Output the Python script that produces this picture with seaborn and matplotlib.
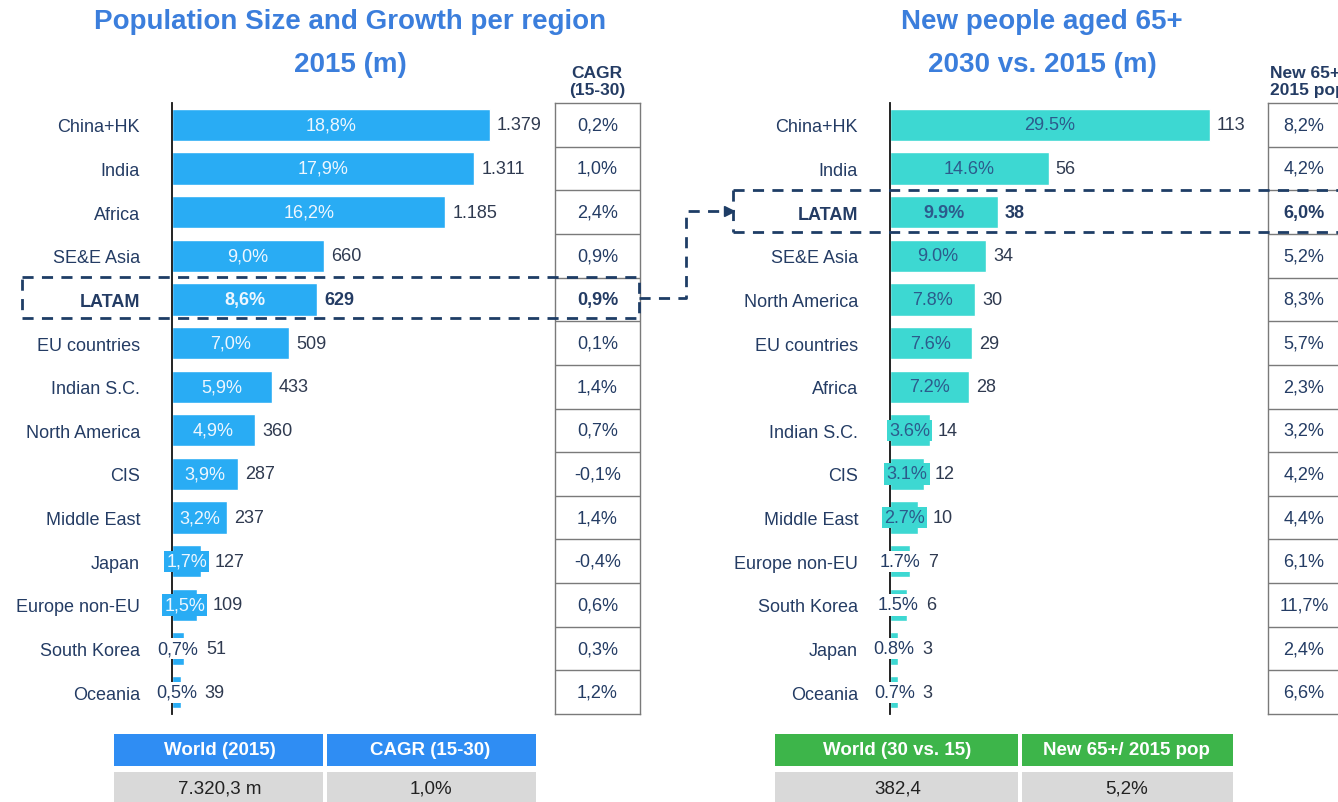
import matplotlib
matplotlib.use("Agg")
import matplotlib.pyplot as plt
import seaborn as sns
import numpy as np
import pandas as pd
from matplotlib.patches import Rectangle

# ---------------- data ----------------
left_regions = ["China+HK", "India", "Africa", "SE&E Asia", "LATAM", "EU countries",
                "Indian S.C.", "North America", "CIS", "Middle East", "Japan",
                "Europe non-EU", "South Korea", "Oceania"]
left_pop = [1379, 1311, 1185, 660, 629, 509, 433, 360, 287, 237, 127, 109, 51, 39]
left_share = ["18,8%", "17,9%", "16,2%", "9,0%", "8,6%", "7,0%", "5,9%", "4,9%",
              "3,9%", "3,2%", "1,7%", "1,5%", "0,7%", "0,5%"]
left_value_labels = ["1.379", "1.311", "1.185", "660", "629", "509", "433", "360",
                     "287", "237", "127", "109", "51", "39"]
left_cagr = ["0,2%", "1,0%", "2,4%", "0,9%", "0,9%", "0,1%", "1,4%", "0,7%",
             "-0,1%", "1,4%", "-0,4%", "0,6%", "0,3%", "1,2%"]

right_regions = ["China+HK", "India", "LATAM", "SE&E Asia", "North America",
                 "EU countries", "Africa", "Indian S.C.", "CIS", "Middle East",
                 "Europe non-EU", "South Korea", "Japan", "Oceania"]
right_new65 = [113, 56, 38, 34, 30, 29, 28, 14, 12, 10, 7, 6, 3, 3]
right_share = ["29.5%", "14.6%", "9.9%", "9.0%", "7.8%", "7.6%", "7.2%", "3.6%",
               "3.1%", "2.7%", "1.7%", "1.5%", "0.8%", "0.7%"]
right_ratio = ["8,2%", "4,2%", "6,0%", "5,2%", "8,3%", "5,7%", "2,3%", "3,2%",
               "4,2%", "4,4%", "6,1%", "11,7%", "2,4%", "6,6%"]

highlight = "LATAM"

left_title = ["Population Size and Growth per region", "2015 (m)"]
right_title = ["New people aged 65+", "2030 vs. 2015 (m)"]
left_col_header = "CAGR\n(15-30)"
right_col_header = "New 65+/\n2015 pop"

left_table_header = ["World (2015)", "CAGR (15-30)"]
left_table_values = ["7.320,3 m", "1,0%"]
right_table_header = ["World (30 vs. 15)", "New 65+/ 2015 pop"]
right_table_values = ["382,4", "5,2%"]

# ---------------- style ----------------
sns.set_theme(style="white")
plt.rcParams["font.family"] = ["Liberation Sans", "DejaVu Sans"]

W, H = 1338, 803
BLUE_BAR = "#29acf4"
TEAL_BAR = "#3dd8d2"
NAVY = "#243c64"
TITLE = "#3b7edc"
DASH = "#1e3d66"
FS = 13

fig = plt.figure(figsize=(W / 100, H / 100), dpi=100)
fig.patch.set_facecolor("white")


def px_axes(x0, y0, x1, y1):
    return fig.add_axes([x0 / W, 1 - y1 / H, (x1 - x0) / W, (y1 - y0) / H])


TOP, BOT = 104, 715


def bar_panel(ax, cats, vals, shares, vlabels, color, pct_color, big_thresh,
              small_thresh, px_per_unit, xmax):
    df = pd.DataFrame({"region": cats, "value": vals})
    sns.barplot(data=df, x="value", y="region", orient="h", color=color,
                width=0.74, ax=ax, saturation=1)
    ax.set_xlim(0, xmax)
    ax.set_xlabel("")
    ax.set_ylabel("")
    ax.set_xticks([])
    for s in ["top", "right", "bottom"]:
        ax.spines[s].set_visible(False)
    ax.spines["left"].set_color("#111111")
    ax.spines["left"].set_linewidth(1.3)
    ax.tick_params(axis="y", length=0, pad=23, labelsize=FS, labelcolor=NAVY)
    for t in ax.get_yticklabels():
        if t.get_text() == highlight:
            t.set_fontweight("bold")
    half = 21 / px_per_unit  # half label width in data units
    for i, (v, s, vl) in enumerate(zip(vals, shares, vlabels)):
        bold = "bold" if cats[i] == highlight else "normal"
        if v >= big_thresh:
            ax.text(v / 2, i, s, ha="center", va="center", color=pct_color,
                    fontsize=FS, fontweight=bold, zorder=5)
            xend = v
        elif v >= small_thresh:
            ax.text(v / 2, i, s, ha="center", va="center", color=pct_color,
                    fontsize=FS, zorder=5,
                    bbox=dict(boxstyle="square,pad=0.12", fc=color, ec="none"))
            xend = max(v, v / 2 + half)
        else:
            ax.text(v / 2, i, s, ha="center", va="center", color=NAVY,
                    fontsize=FS, zorder=5, clip_on=False,
                    bbox=dict(boxstyle="square,pad=0.12", fc="white", ec="none"))
            xend = max(v, v / 2 + half)
        ax.text(xend + 7 / px_per_unit, i, vl, ha="left", va="center",
                color="#2f3a50" if bold == "normal" else NAVY,
                fontsize=FS, fontweight=bold, zorder=5)


# left panel: 1379 -> 318 px
lpx = 318 / 1379
axL = px_axes(172, TOP, 545, BOT)
bar_panel(axL, left_regions, left_pop, left_share, left_value_labels, BLUE_BAR,
          "#eef7ff", 200, 100, lpx, 373 / lpx)

# right panel: 113 -> 320 px
rpx = 320 / 113
axR = px_axes(890, TOP, 1255, BOT)
bar_panel(axR, right_regions, right_new65, right_share,
          [str(v) for v in right_new65], TEAL_BAR, "#2c5b8c", 15, 9, rpx, 365 / rpx)


def column(ax, labels, cats):
    ax.set_xlim(0, 1)
    ax.set_ylim(len(labels) - 0.5, -0.5)
    ax.set_xticks([])
    ax.set_yticks([])
    for s in ax.spines.values():
        s.set_visible(True)
        s.set_color("#7a7a7a")
        s.set_linewidth(1)
    for i in range(len(labels) - 1):
        ax.axhline(i + 0.5, color="#7a7a7a", lw=1)
    for i, lab in enumerate(labels):
        ax.text(0.5, i, lab, ha="center", va="center", fontsize=FS, color=NAVY,
                fontweight="bold" if cats[i] == highlight else "normal")


axC1 = px_axes(555, TOP, 640, BOT)
column(axC1, left_cagr, left_regions)
axC2 = px_axes(1268, TOP, 1340, BOT)
column(axC2, right_ratio, right_regions)

# ---------------- overlay (titles, boxes, tables) ----------------
ov = fig.add_axes([0, 0, 1, 1], zorder=10)
ov.set_xlim(0, W)
ov.set_ylim(H, 0)
ov.axis("off")
ov.patch.set_alpha(0)

for x, lines in [(350, left_title), (1042, right_title)]:
    ov.text(x, 22, lines[0], ha="center", va="center", fontsize=20,
            fontweight="bold", color=TITLE)
    ov.text(x, 65, lines[1], ha="center", va="center", fontsize=20,
            fontweight="bold", color=TITLE)
ov.text(597, 82, left_col_header, ha="center", va="center", fontsize=12.5,
        fontweight="bold", color=NAVY, linespacing=1.15)
ov.text(1270, 82, right_col_header, ha="left", va="center", fontsize=12.5,
        fontweight="bold", color=NAVY, linespacing=1.15)

dash = dict(color=DASH, lw=2, linestyle=(0, (4, 3)))
ov.plot([22, 639, 639, 22, 22], [278, 278, 319, 319, 278], **dash)
ov.plot([733, 1345], [191, 191], **dash)
ov.plot([733, 1345], [233, 233], **dash)
ov.plot([733, 733], [191, 233], **dash)
ov.plot([639, 686, 686, 724], [299, 299, 212, 212], **dash)
ov.plot([729], [212], marker=">", color=DASH, markersize=7, linestyle="none")


def table(x0, xm, x1, header, values, color):
    ov.add_patch(Rectangle((x0, 735), xm - x0 - 2, 32, fc=color, ec="none"))
    ov.add_patch(Rectangle((xm + 2, 735), x1 - xm - 2, 32, fc=color, ec="none"))
    ov.add_patch(Rectangle((x0, 773), xm - x0 - 2, 32, fc="#d9d9d9", ec="none"))
    ov.add_patch(Rectangle((xm + 2, 773), x1 - xm - 2, 32, fc="#d9d9d9", ec="none"))
    cxs = [(x0 + xm) / 2, (xm + x1) / 2]
    for cx, h, v in zip(cxs, header, values):
        ov.text(cx, 751, h, ha="center", va="center", fontsize=13.5,
                fontweight="bold", color="white")
        ov.text(cx, 789, v, ha="center", va="center", fontsize=13.5, color="#222222")


table(114, 325, 536, left_table_header, left_table_values, "#2f8df3")
table(775, 1020, 1233, right_table_header, right_table_values, "#3db54a")

fig.savefig("out.png", dpi=100, facecolor="white")
